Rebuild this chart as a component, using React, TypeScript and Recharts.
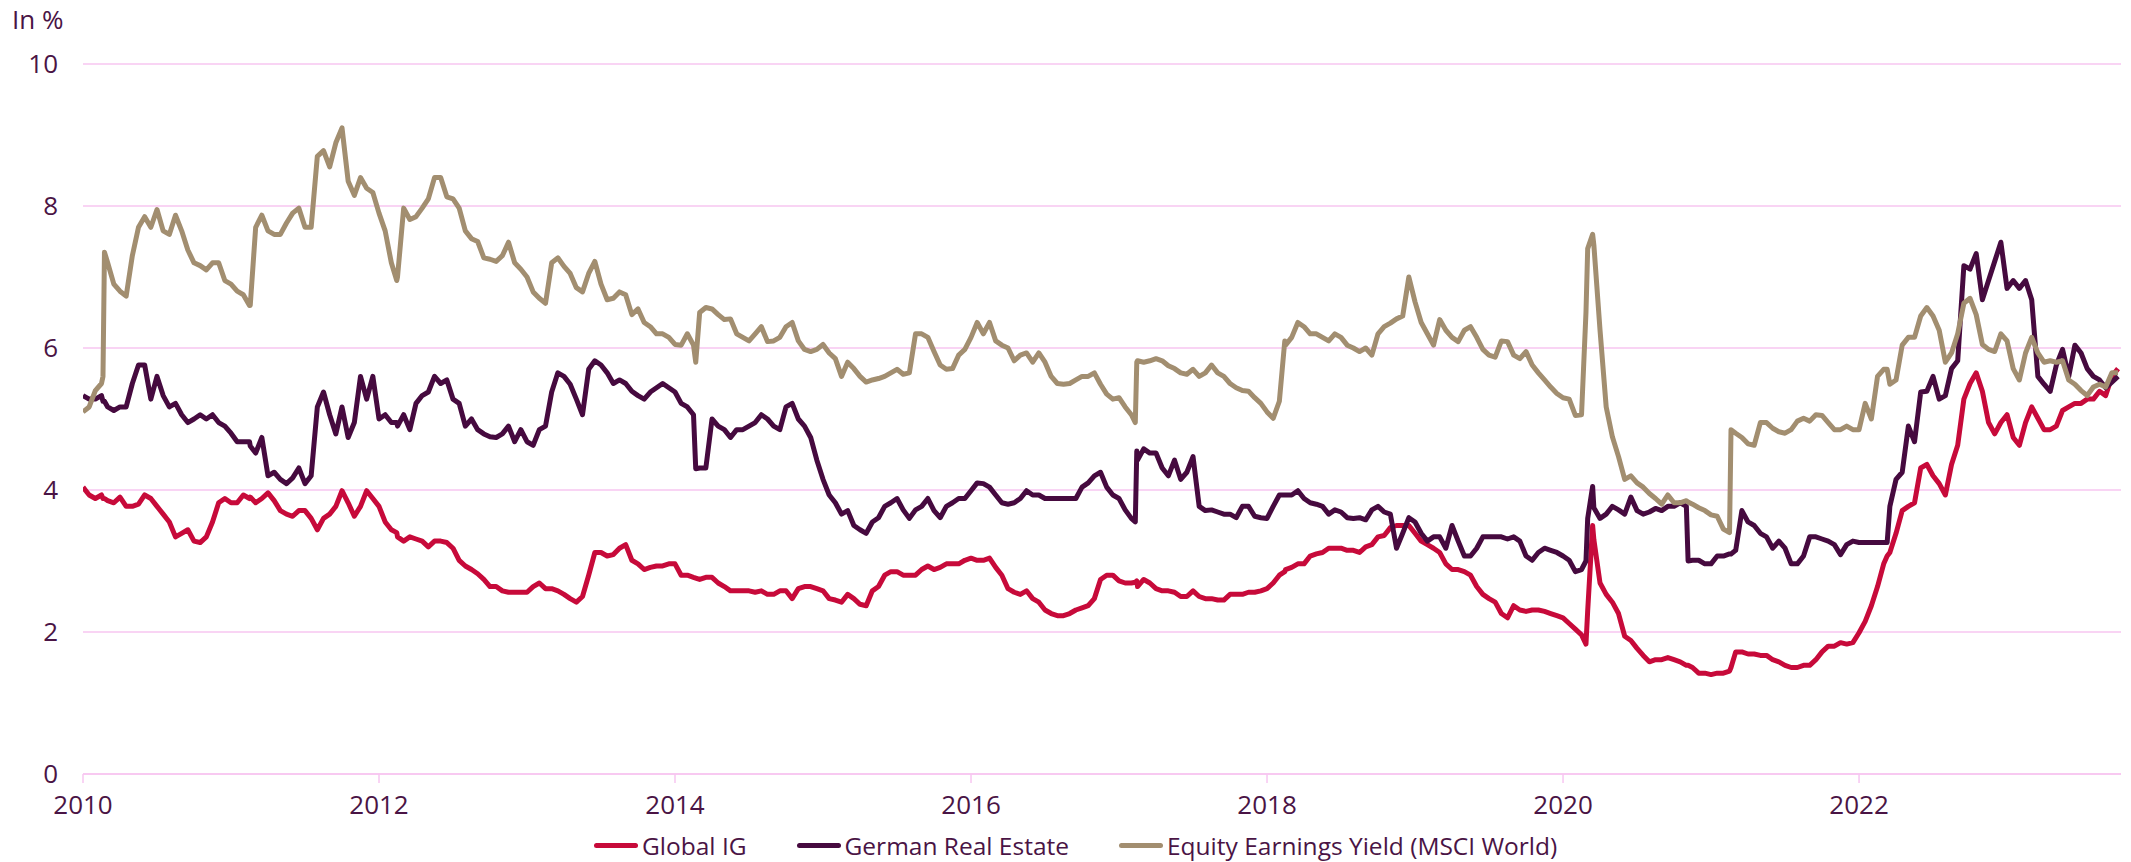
import React from 'react';
import { LineChart, Line, XAxis, YAxis, CartesianGrid, Legend } from 'recharts';

// month-start readings, Jan 2010 .. Oct 2023
const startYear = 2010;

const globalIG = [
  4.04, 3.88, 3.85, 3.9, 3.77, 3.93, 3.77, 3.55, 3.39, 3.28,
  3.34, 3.82, 3.82, 3.93, 3.82, 3.96, 3.71, 3.63, 3.71, 3.44,
  3.66, 3.99, 3.63, 3.99, 3.77, 3.44, 3.28, 3.31, 3.2, 3.28,
  3.18, 2.93, 2.82, 2.64, 2.58, 2.56, 2.56, 2.69, 2.61, 2.53,
  2.42, 2.8, 3.12, 3.09, 3.23, 2.96, 2.91, 2.93, 2.96, 2.8,
  2.74, 2.77, 2.64, 2.58, 2.58, 2.58, 2.53, 2.58, 2.61, 2.64,
  2.58, 2.45, 2.53, 2.39, 2.58, 2.8, 2.85, 2.8, 2.88, 2.88,
  2.96, 2.96, 3.04, 3.01, 2.91, 2.61, 2.53, 2.47, 2.31, 2.23,
  2.26, 2.34, 2.47, 2.8, 2.72, 2.69, 2.74, 2.61, 2.58, 2.5,
  2.58, 2.47, 2.45, 2.53, 2.53, 2.56, 2.61, 2.8, 2.91, 2.96,
  3.1, 3.18, 3.18, 3.15, 3.2, 3.34, 3.47, 3.5, 3.39, 3.23,
  3.12, 2.88, 2.85, 2.64, 2.47, 2.26, 2.37, 2.29, 2.31, 2.26,
  2.2, 2.04, 2.3, 2.69, 2.42, 1.94, 1.77, 1.58, 1.61, 1.61,
  1.53, 1.42, 1.4, 1.42, 1.72, 1.69, 1.67, 1.61, 1.53, 1.5,
  1.53, 1.72, 1.8, 1.83, 1.99, 2.37, 2.96, 3.39, 3.77, 4.31,
  4.2, 3.93, 4.63, 5.5, 5.39, 4.79, 5.06, 4.63, 5.17, 4.85,
  4.9, 5.17, 5.22, 5.28, 5.33, 5.71,
];

const germanRealEstate = [
  5.33, 5.28, 5.17, 5.17, 5.5, 5.76, 5.6, 5.17, 5.06, 5.0,
  5.0, 4.95, 4.8, 4.68, 4.52, 4.2, 4.15, 4.17, 4.09, 5.17,
  5.06, 5.17, 4.95, 5.28, 5.0, 4.95, 5.06, 5.22, 5.38, 5.5,
  5.28, 4.9, 4.85, 4.75, 4.79, 4.68, 4.68, 4.85, 5.38, 5.6,
  5.28, 5.7, 5.76, 5.5, 5.5, 5.33, 5.38, 5.5, 5.38, 5.17,
  4.31, 5.0, 4.85, 4.85, 4.9, 5.06, 4.9, 5.17, 5.0, 4.74,
  4.15, 3.82, 3.71, 3.44, 3.55, 3.77, 3.88, 3.6, 3.77, 3.71,
  3.77, 3.88, 3.99, 4.09, 3.93, 3.8, 3.88, 3.93, 3.88, 3.88,
  3.88, 4.04, 4.2, 4.04, 3.88, 3.6, 4.58, 4.52, 4.2, 4.15,
  4.47, 3.71, 3.69, 3.66, 3.77, 3.63, 3.6, 3.93, 3.93, 3.88,
  3.8, 3.66, 3.69, 3.6, 3.58, 3.77, 3.66, 3.39, 3.55, 3.28,
  3.34, 3.5, 3.07, 3.18, 3.34, 3.34, 3.34, 3.07, 3.12, 3.15,
  3.07, 2.85, 3.6, 3.6, 3.77, 3.66, 3.71, 3.69, 3.71, 3.77,
  3.77, 3.01, 2.96, 3.07, 3.15, 3.55, 3.39, 3.18, 3.18, 2.96,
  3.34, 3.31, 3.23, 3.23, 3.26, 3.26, 3.26, 4.15, 4.9, 5.38,
  5.6, 5.33, 5.82, 7.11, 6.68, 7.22, 6.84, 6.84, 6.68, 5.49,
  5.76, 5.6, 5.93, 5.6, 5.44, 5.6,
];

const equityYield = [
  5.1, 5.4, 7.2, 6.8, 7.3, 7.85, 7.95, 7.6, 7.65, 7.2,
  7.1, 7.2, 6.9, 6.75, 7.7, 7.65, 7.6, 7.9, 7.7, 8.7,
  8.55, 9.1, 8.15, 8.25, 7.9, 7.2, 7.97, 7.85, 8.1, 8.4,
  8.1, 7.65, 7.5, 7.25, 7.3, 7.2, 7.0, 6.7, 7.2, 7.15,
  6.85, 7.05, 6.9, 6.7, 6.75, 6.55, 6.3, 6.2, 6.05, 6.2,
  6.5, 6.55, 6.4, 6.2, 6.1, 6.3, 6.1, 6.3, 6.1, 5.95,
  6.05, 5.85, 5.8, 5.6, 5.55, 5.6, 5.7, 5.65, 6.2, 5.95,
  5.7, 5.9, 6.15, 6.2, 6.1, 6.0, 5.9, 5.8, 5.8, 5.5,
  5.5, 5.6, 5.65, 5.35, 5.3, 5.06, 5.8, 5.85, 5.75, 5.65,
  5.7, 5.65, 5.65, 5.5, 5.4, 5.3, 5.1, 5.25, 6.15, 6.3,
  6.2, 6.1, 6.15, 6.0, 6.0, 6.2, 6.35, 6.45, 6.65, 6.2,
  6.4, 6.15, 6.25, 6.15, 5.9, 6.1, 5.9, 5.95, 5.65, 5.45,
  5.3, 5.05, 7.4, 6.25, 4.75, 4.15, 4.1, 3.95, 3.8, 3.82,
  3.85, 3.75, 3.65, 3.45, 4.8, 4.65, 4.95, 4.87, 4.8, 4.97,
  4.97, 5.05, 4.85, 4.9, 4.85, 5.0, 5.7, 5.55, 6.15, 6.45,
  6.45, 5.8, 6.2, 6.7, 6.05, 5.95, 6.1, 5.55, 6.15, 5.8,
  5.8, 5.55, 5.4, 5.45, 5.45, 5.65,
];

// mid-month readings, mid Jan 2010 .. mid Sep 2023
const midIG = [
  3.93, 3.93, 3.82, 3.77, 3.8, 3.88, 3.66, 3.34, 3.44, 3.26,
  3.55, 3.88, 3.82, 3.88, 3.88, 3.85, 3.66, 3.71, 3.6, 3.6,
  3.77, 3.82, 3.77, 3.88, 3.55, 3.34, 3.34, 3.28, 3.28, 3.26,
  3.01, 2.88, 2.74, 2.64, 2.56, 2.56, 2.64, 2.61, 2.58, 2.47,
  2.5, 3.12, 3.07, 3.18, 3.01, 2.88, 2.93, 2.96, 2.8, 2.77,
  2.77, 2.69, 2.58, 2.58, 2.56, 2.53, 2.58, 2.47, 2.64, 2.61,
  2.47, 2.42, 2.47, 2.37, 2.64, 2.85, 2.8, 2.8, 2.93, 2.91,
  2.96, 3.01, 3.01, 3.04, 2.8, 2.56, 2.58, 2.42, 2.26, 2.23,
  2.31, 2.37, 2.74, 2.8, 2.69, 2.64, 2.69, 2.58, 2.56, 2.5,
  2.5, 2.47, 2.45, 2.53, 2.56, 2.58, 2.69, 2.88, 2.96, 3.07,
  3.12, 3.18, 3.15, 3.12, 3.23, 3.36, 3.5, 3.5, 3.28, 3.18,
  2.96, 2.88, 2.8, 2.53, 2.42, 2.2, 2.31, 2.31, 2.29, 2.23,
  2.12, 1.96, 3.3, 2.53, 2.26, 1.88, 1.67, 1.61, 1.64, 1.58,
  1.5, 1.42, 1.42, 1.45, 1.72, 1.69, 1.67, 1.58, 1.5, 1.53,
  1.61, 1.8, 1.85, 1.85, 2.15, 2.64, 3.12, 3.71, 3.82, 4.36,
  4.09, 4.36, 5.28, 5.65, 4.95, 4.95, 4.74, 4.95, 5.01, 4.85,
  5.12, 5.22, 5.28, 5.39, 5.6,
];

const midRE = [
  5.28, 5.33, 5.12, 5.17, 5.76, 5.28, 5.33, 5.22, 4.95, 5.06,
  5.06, 4.9, 4.68, 4.68, 4.74, 4.25, 4.09, 4.31, 4.2, 5.38,
  4.79, 4.74, 5.6, 5.6, 5.06, 4.9, 4.85, 5.33, 5.6, 5.55,
  5.22, 5.0, 4.79, 4.74, 4.9, 4.85, 4.63, 4.9, 5.65, 5.49,
  5.06, 5.82, 5.65, 5.55, 5.39, 5.28, 5.44, 5.44, 5.22, 5.06,
  4.31, 4.9, 4.74, 4.85, 4.95, 5.0, 4.85, 5.22, 4.9, 4.42,
  3.93, 3.66, 3.5, 3.39, 3.61, 3.82, 3.72, 3.72, 3.88, 3.61,
  3.82, 3.88, 4.1, 4.04, 3.82, 3.82, 3.99, 3.93, 3.88, 3.88,
  3.88, 4.1, 4.25, 3.93, 3.72, 4.42, 4.52, 4.31, 4.42, 4.25,
  3.77, 3.72, 3.66, 3.61, 3.77, 3.61, 3.77, 3.93, 3.99, 3.82,
  3.77, 3.72, 3.61, 3.61, 3.72, 3.69, 3.18, 3.61, 3.39, 3.34,
  3.18, 3.28, 3.07, 3.34, 3.34, 3.31, 3.28, 3.01, 3.18, 3.12,
  3.01, 2.88, 3.75, 3.66, 3.72, 3.9, 3.66, 3.74, 3.77, 3.82,
  3.01, 2.96, 3.07, 3.1, 3.71, 3.5, 3.34, 3.28, 2.96, 3.07,
  3.34, 3.28, 3.09, 3.28, 3.26, 3.26, 3.77, 4.25, 4.68, 5.39,
  5.28, 5.71, 7.16, 7.33, 6.95, 7.49, 6.95, 6.95, 5.6, 5.39,
  5.98, 6.04, 5.71, 5.55, 5.52,
];

const midEQ = [
  5.17, 5.5, 6.9, 6.73, 7.7, 7.7, 7.65, 7.87, 7.38, 7.16,
  7.2, 6.95, 6.8, 6.6, 7.87, 7.6, 7.76, 7.97, 7.7, 8.78,
  8.89, 8.35, 8.4, 8.19, 7.65, 7.0, 7.81, 7.97, 8.4, 8.13,
  7.97, 7.54, 7.27, 7.22, 7.49, 7.11, 6.79, 6.63, 7.27, 7.05,
  6.79, 7.22, 6.68, 6.79, 6.47, 6.36, 6.2, 6.15, 6.04, 6.04,
  6.57, 6.47, 6.41, 6.15, 6.2, 6.09, 6.15, 6.36, 5.98, 5.98,
  5.93, 5.6, 5.71, 5.52, 5.57, 5.65, 5.63, 6.2, 6.15, 5.76,
  5.71, 5.98, 6.36, 6.36, 6.04, 5.82, 5.93, 5.93, 5.6, 5.49,
  5.55, 5.6, 5.49, 5.28, 5.17, 5.82, 5.82, 5.82, 5.71, 5.63,
  5.6, 5.76, 5.6, 5.44, 5.39, 5.22, 5.01, 6.04, 6.36, 6.2,
  6.15, 6.2, 6.04, 5.95, 5.9, 6.3, 6.41, 7.0, 6.36, 6.04,
  6.25, 6.09, 6.3, 5.98, 5.87, 6.09, 5.85, 5.76, 5.55, 5.36,
  5.28, 5.06, 7.45, 5.17, 4.47, 4.2, 4.04, 3.88, 3.93, 3.82,
  3.8, 3.71, 3.63, 3.4, 4.74, 4.63, 4.95, 4.82, 4.85, 5.01,
  5.06, 4.95, 4.85, 4.85, 5.22, 5.6, 5.49, 6.04, 6.15, 6.57,
  6.25, 5.93, 6.63, 6.47, 5.98, 6.2, 5.71, 5.93, 5.93, 5.82,
  5.82, 5.49, 5.33, 5.49, 5.65,
];

// extra readings around the sharp jumps
const extraDates = [2010.135, 2010.145, 2011.13, 2012.12, 2014.14, 2017.11, 2017.12, 2018.12, 2020.155, 2020.2, 2020.845, 2021.135, 2022.19];
const extraIG = [3.88, 3.88, 3.9, 3.4, 2.76, 2.7, 2.72, 2.85, 1.83, 3.5, 1.53, 1.5, 3.07];
const extraRE = [5.25, 5.25, 4.62, 4.95, 4.3, 3.55, 4.55, 3.93, 3.0, 4.05, 3.0, 3.1, 3.26];
const extraEQ = [5.6, 7.35, 6.6, 6.95, 5.8, 4.95, 5.8, 6.1, 6.5, 7.6, 3.83, 4.85, 5.7];

const yearTicks = [2010, 2012, 2014, 2016, 2018, 2020, 2022];
const valueTicks = [0, 2, 4, 6, 8, 10];

const series = [
  { key: 'ig', name: 'Global IG', color: '#C70A3A' },
  { key: 're', name: 'German Real Estate', color: '#460A3F' },
  { key: 'eq', name: 'Equity Earnings Yield (MSCI World)', color: '#A28E70' },
];

const rows = globalIG
  .map((v, i) => ({ t: startYear + i / 12, ig: v, re: germanRealEstate[i], eq: equityYield[i] }))
  .concat(midIG.map((v, i) => ({ t: startYear + (i + 0.5) / 12, ig: v, re: midRE[i], eq: midEQ[i] })))
  .concat(extraDates.map((t, i) => ({ t, ig: extraIG[i], re: extraRE[i], eq: extraEQ[i] })))
  .sort((a, b) => a.t - b.t);

const font = "'Open Sans', sans-serif";
const textColor = '#4A1445';
const gridColor = '#F7C6F1';

const renderLegend = () => (
  <div style={{ display: 'flex', alignItems: 'center', fontFamily: font, fontSize: 24.5, color: textColor }}>
    {series.map((s) => (
      <div key={s.key} style={{ display: 'flex', alignItems: 'center', marginRight: 50 }}>
        <span style={{ display: 'inline-block', width: 44, height: 5, borderRadius: 3, background: s.color, marginRight: 4 }} />
        <span>{s.name}</span>
      </div>
    ))}
  </div>
);

export default function App() {
  return (
    <div style={{ position: 'absolute', left: 0, top: 0 }}>
      <LineChart width={2131} height={862} data={rows} margin={{ top: 64, right: 10, left: 0, bottom: 58 }}>
        <CartesianGrid vertical={false} stroke={gridColor} strokeWidth={1.5} />
        <XAxis
          dataKey="t"
          type="number"
          domain={[2010, 2023.77]}
          ticks={yearTicks}
          allowDataOverflow
          height={30}
          stroke={gridColor}
          strokeWidth={1.5}
          tickSize={9}
          tickMargin={13}
          tick={{ fill: textColor, fontSize: 26, fontFamily: font }}
        />
        <YAxis
          domain={[0, 10]}
          ticks={valueTicks}
          width={83}
          axisLine={false}
          tickLine={false}
          tickSize={0}
          tickMargin={25}
          tick={{ fill: textColor, fontSize: 26, fontFamily: font }}
          label={() => (
            <text x={12} y={29} fill={textColor} fontSize={26} fontFamily={font}>
              In %
            </text>
          )}
        />
        <Legend
          layout="horizontal"
          verticalAlign="middle"
          align="center"
          content={renderLegend}
          wrapperStyle={{ left: 594, top: 829, width: 1250 }}
        />
        {series.map((s) => (
          <Line
            key={s.key}
            dataKey={s.key}
            name={s.name}
            stroke={s.color}
            strokeWidth={5}
            strokeLinejoin="round"
            dot={false}
            type="linear"
            isAnimationActive={false}
          />
        ))}
      </LineChart>
    </div>
  );
}
